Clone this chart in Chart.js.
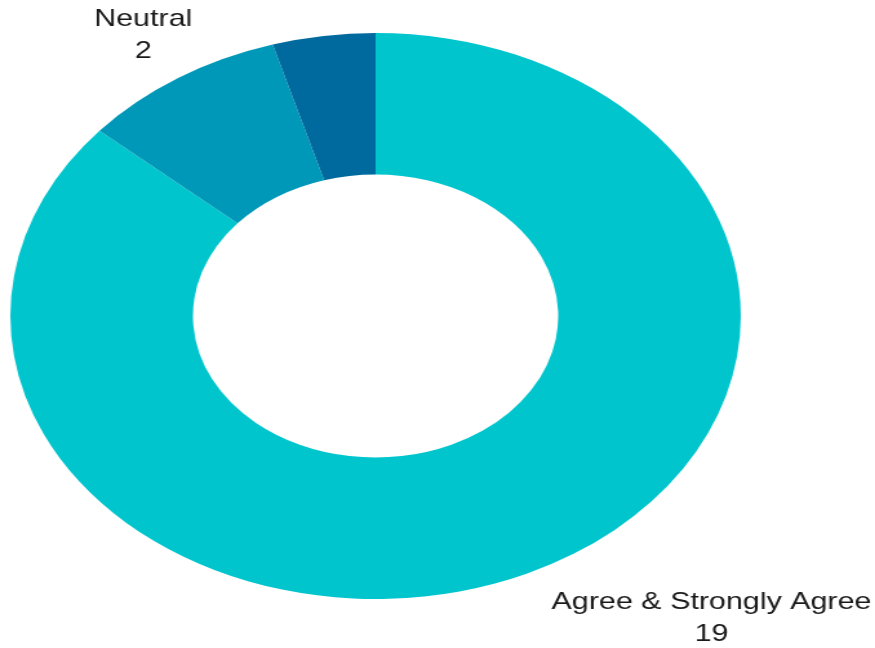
<!DOCTYPE html>
<html>
<head>
<meta charset="utf-8">
<script src="https://cdn.jsdelivr.net/npm/chart.js@4"></script>
<style>
  html, body { margin: 0; padding: 0; background: #fff; overflow: hidden; }
  #wrap { width: 678px; height: 648px; transform: scaleX(1.2906); transform-origin: 0 0; }
</style>
</head>
<body>
<div id="wrap"><canvas id="myChart"></canvas></div>
<script>
const categories = ['Agree & Strongly Agree', 'Neutral', 'Disagree & Strongly Disagree'];
const counts = [19, 2, 1];
const labelVisible = [true, true, false];
const sliceColors = ['#00c5cd', '#0098b8', '#006a9f'];

// draws "name / value" outside the ring, on the slice's middle angle
const outsideLabels = {
    id: 'outsideLabels',
    afterDatasetsDraw(chart, args, opts) {
        const ctx = chart.ctx;
        const meta = chart.getDatasetMeta(0);
        ctx.save();
        ctx.font = '23.6px "Liberation Sans", Arial, sans-serif';
        ctx.fillStyle = '#1a1a1a';
        ctx.textAlign = 'center';
        ctx.textBaseline = 'middle';
        meta.data.forEach((arc, i) => {
            if (!labelVisible[i]) return;
            const p = arc.getProps(['x', 'y', 'startAngle', 'endAngle', 'outerRadius'], true);
            const mid = (p.startAngle + p.endAngle) / 2;
            const r = p.outerRadius + opts.offset;
            let x = p.x + Math.cos(mid) * r;
            const y = p.y + Math.sin(mid) * r;
            const lines = [categories[i], String(counts[i])];
            const w = Math.max(...lines.map(t => ctx.measureText(t).width));
            if (opts.align[i] === 'left') x += w / 2 - 2;
            ctx.fillText(lines[0], x, y - opts.lineGap / 2);
            ctx.fillText(lines[1], x, y + opts.lineGap / 2);
        });
        ctx.restore();
    }
};

const ctx = document.getElementById('myChart').getContext('2d');
const myChart = new Chart(ctx, {
    type: 'doughnut',
    data: {
        labels: categories,
        datasets: [{
            data: counts,
            backgroundColor: sliceColors,
            borderWidth: 0
        }]
    },
    options: {
        responsive: true,
        maintainAspectRatio: false,
        animation: false,
        cutout: '50%',
        layout: { padding: { top: 33, bottom: 49, left: 8, right: 104 } },
        plugins: {
            legend: { display: false },
            tooltip: { enabled: false },
            outsideLabels: { offset: 50, lineGap: 32, align: ['left', 'center', 'center'] }
        }
    },
    plugins: [outsideLabels]
});
</script>
</body>
</html>
